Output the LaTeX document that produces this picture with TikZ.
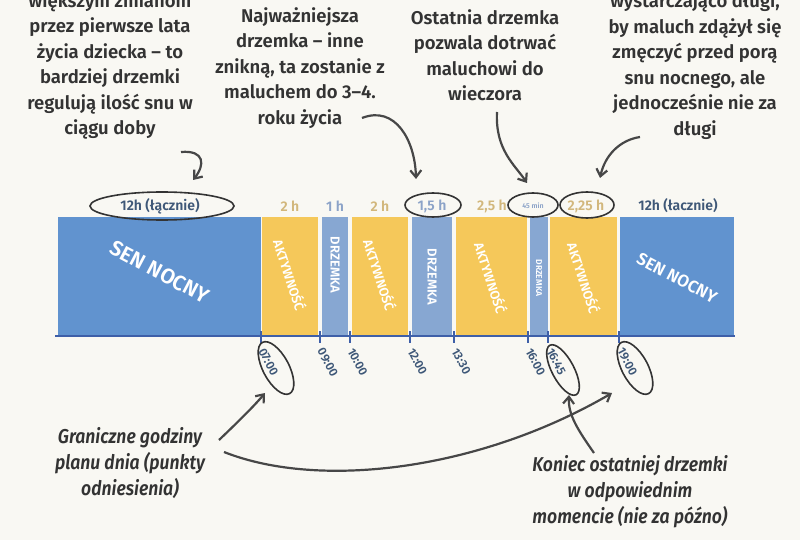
\documentclass[tikz,border=0pt]{standalone}
\usepackage{fontspec}
\setmainfont{Fira Sans}[BoldFont={Fira Sans SemiBold},BoldItalicFont={Fira Sans SemiBold Italic}]
\usetikzlibrary{arrows.meta,shapes.geometric}
\definecolor{bg}{HTML}{F9F8F3}
\definecolor{night}{HTML}{6193CF}
\definecolor{act}{HTML}{F5C85A}
\definecolor{nap}{HTML}{87A7D2}
\definecolor{actl}{HTML}{D2B77C}
\definecolor{napl}{HTML}{8CA3C8}
\definecolor{axis}{HTML}{3E5FA8}
\definecolor{ink}{HTML}{333333}
\definecolor{timec}{HTML}{3F5878}
\begin{document}
\begin{tikzpicture}[x=1pt,y=-1pt,
  blk/.style={anchor=north west,inner sep=0,outer sep=0,minimum height=118pt},
  note/.style={align=center,font=\bfseries\fontsize{18.5}{25.5}\selectfont,text=ink},
  cnote/.style={align=center,font=\bfseries\itshape\fontsize{20}{26}\selectfont,text=ink,xscale=0.88},
  hdr/.style={font=\bfseries\fontsize{14}{15}\selectfont},
  vlab/.style={font=\bfseries\fontsize{13}{14}\selectfont,text=white},
  tm/.style={font=\bfseries\fontsize{12}{13}\selectfont,text=timec,rotate=-62,anchor=west},
  ring/.style={draw=ink,line width=1.6pt,ellipse},
  arr/.style={draw=ink!90,line width=2.2pt,-{Straight Barb[length=7pt,width=11pt]}}]
\fill[bg] (0,0) rectangle (800,540);
\useasboundingbox (0,0) rectangle (800,540);
% blocks
\node[blk,fill=night,minimum width=203pt] (s1) at (58,217) {};
\node[blk,fill=act,minimum width=56pt] (a1) at (262,217) {};
\node[blk,fill=nap,minimum width=26pt] (d1) at (322,217) {};
\node[blk,fill=act,minimum width=56pt] (a2) at (352,217) {};
\node[blk,fill=nap,minimum width=40pt] (d2) at (412,217) {};
\node[blk,fill=act,minimum width=71pt] (a3) at (456,217) {};
\node[blk,fill=nap,minimum width=18pt] (d3) at (530,217) {};
\node[blk,fill=act,minimum width=67pt] (a4) at (550,217) {};
\node[blk,fill=night,minimum width=114pt] (s2) at (620,217) {};
\draw[axis,line width=2pt] (55,336) -- (735,336);
\foreach \x in {261,320,350,410,454,528,548,619}{\draw[axis,line width=1.5pt] (\x,331)--(\x,343);}
% block labels
\node[font=\bfseries\fontsize{21}{22}\selectfont,text=white,rotate=-28] (sn1) at (160,272) {SEN NOCNY};
\node[font=\bfseries\fontsize{17}{18}\selectfont,text=white,rotate=-28] (sn2) at (677,278) {SEN NOCNY};
\node[vlab,rotate=-72] (l1) at (290,275) {AKTYWNOŚĆ};
\node[vlab,rotate=-90] (l2) at (335,265) {DRZEMKA};
\node[vlab,rotate=-72] (l3) at (380,275) {AKTYWNOŚĆ};
\node[vlab,rotate=-90] (l4) at (432,277) {DRZEMKA};
\node[vlab,rotate=-72] (l5) at (491,278) {AKTYWNOŚĆ};
\node[vlab,rotate=-90,font=\bfseries\fontsize{8.5}{9}\selectfont] (l6) at (539,278) {DRZEMKA};
\node[vlab,rotate=-72] (l7) at (584,278) {AKTYWNOŚĆ};
% headers
\node[hdr,text=timec] (h0) at (160,206) {12h (łącznie)};
\node[hdr,text=actl] (h1) at (290,206) {2 h};
\node[hdr,text=napl] (h2) at (335,206) {1 h};
\node[hdr,text=actl] (h3) at (380,206) {2 h};
\node[hdr,text=napl] (h4) at (432,206) {1,5 h};
\node[hdr,text=actl] (h5) at (492,206) {2,5 h};
\node[font=\bfseries\fontsize{7}{8}\selectfont,text=napl] (h6) at (533,206) {45 min};
\node[hdr,text=actl] (h7) at (586,206) {2,25 h};
\node[hdr,text=timec] (h8) at (678,206) {12h (łacznie)};
\node[ring,minimum width=144pt,minimum height=28pt] (e0) at (162,206) {};
\node[ring,minimum width=56pt,minimum height=24pt] (e4) at (433,205) {};
\node[ring,minimum width=50pt,minimum height=24pt] (e6) at (533,205) {};
\node[ring,minimum width=54pt,minimum height=26pt] (e7) at (587,205) {};
% times
\node[tm] (t1) at (260,346) {07:00};
\node[tm] (t2) at (319,346) {09:00};
\node[tm] (t3) at (349,346) {10:00};
\node[tm] (t4) at (409,346) {12:00};
\node[tm] (t5) at (453,346) {13:30};
\node[tm] (t6) at (527,346) {16:00};
\node[tm] (t7) at (548,346) {16:45};
\node[tm] (t8) at (619,346) {19:00};
\node[ring,minimum width=58pt,minimum height=26pt,rotate=-62] (r1) at (276,368) {};
\node[ring,minimum width=56pt,minimum height=22pt,rotate=-62] (r7) at (563,370) {};
\node[ring,minimum width=58pt,minimum height=26pt,rotate=-62] (r8) at (635,368) {};
% notes
\node[note] (n1) at (110,66) {większym zmianom\\przez pierwsze lata\\życia dziecka – to\\bardziej drzemki\\regulują ilość snu w\\ciągu doby};
\node[note] (n2) at (300,68) {Najważniejsza\\drzemka – inne\\znikną, ta zostanie z\\maluchem do 3–4.\\roku życia};
\node[note] (n3) at (485,55) {Ostatnia drzemka\\pozwala dotrwać\\maluchowi do\\wieczora};
\node[note] (n4) at (695,66) {wystarczająco długi,\\by maluch zdążył się\\zmęczyć przed porą\\snu nocnego, ale\\jednocześnie nie za\\długi};
\node[cnote] (b1) at (130,463) {Graniczne godziny\\planu dnia (punkty\\odniesienia)};
\node[cnote] (b2) at (630,492) {Koniec ostatniej drzemki\\w odpowiednim\\momencie (nie za późno)};
% arrows
\coordinate (p1) at (181,152); \coordinate (q1) at (193,180);
\draw[arr] (p1) .. controls (205,150) and (205,165) .. (q1);
\coordinate (p2) at (362,118); \coordinate (q2) at (416,179);
\draw[arr] (p2) .. controls (395,105) and (415,140) .. (q2);
\coordinate (p3) at (497,112); \coordinate (q3) at (527,183);
\draw[arr] (p3) .. controls (495,150) and (515,165) .. (q3);
\coordinate (p4) at (640,137); \coordinate (q4) at (600,178);
\draw[arr] (p4) .. controls (620,140) and (605,155) .. (q4);
\coordinate (p5) at (219,440); \coordinate (q5) at (265,393);
\draw[arr] (p5) .. controls (240,420) and (255,405) .. (q5);
\coordinate (p6) at (224,452); \coordinate (q6) at (612,393);
\draw[arr] (p6) .. controls (320,490) and (480,470) .. (q6);
\coordinate (p7) at (594,453); \coordinate (q7) at (569,395);
\draw[arr] (p7) .. controls (578,430) and (568,415) .. (q7);
\end{tikzpicture}
\end{document}
